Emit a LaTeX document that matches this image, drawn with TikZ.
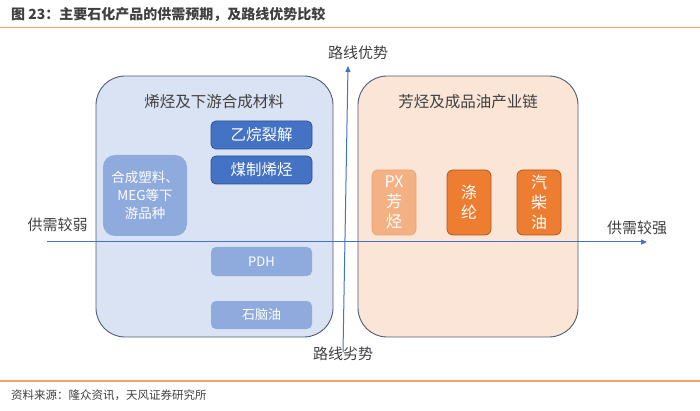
\documentclass[tikz,border=0pt]{standalone}
\usepackage{fontspec}
\setmainfont{Noto Sans CJK SC}
\usetikzlibrary{arrows.meta}
\definecolor{txt}{HTML}{404040}
\definecolor{orl}{HTML}{F2A36B}
\definecolor{bline}{HTML}{4F5D75}
\definecolor{bfill}{HTML}{DAE3F3}
\definecolor{ofill}{HTML}{FBE5D6}
\definecolor{blueA}{HTML}{4472C4}
\definecolor{blueAd}{HTML}{2F528F}
\definecolor{blueB}{HTML}{8FAADC}
\definecolor{orA}{HTML}{ED7D31}
\definecolor{orAd}{HTML}{AE5A21}
\definecolor{orB}{HTML}{F4B183}
\definecolor{axis}{HTML}{4472C4}
\tikzset{
  fs/.style={font=\fontsize{#1}{20}\selectfont},
  bigbox/.style={draw=bline, line width=0.9pt, rounded corners=29pt, inner sep=0pt},
  darkbox/.style={fill=blueA, draw=blueAd, line width=0.8pt, rounded corners=5pt, text=white,
     minimum width=101pt, minimum height=28pt, inner sep=0pt, fs=15.5},
  lightbox/.style={fill=blueB, draw=none, rounded corners=5pt, text=white,
     minimum width=101pt, minimum height=28pt, inner sep=0pt, fs=13},
  obox/.style={draw=orAd, line width=0.8pt, rounded corners=6pt, text=white,
     minimum width=44pt, minimum height=65pt, inner sep=0pt, align=center,
     font=\fontsize{16}{20}\selectfont},
  lbl/.style={text=txt, inner sep=0pt, fs=15},
  axisline/.style={draw=axis, line width=1pt, -{Triangle[length=6pt,width=5pt]}},
}
\begin{document}
\begin{tikzpicture}[x=1pt,y=-1pt]
\useasboundingbox (0,0) rectangle (700,411);
% header and footer
\node[anchor=west, inner sep=0pt, text=txt, font=\fontsize{14}{16}\selectfont\bfseries] (title) at (11,15) {图 23：主要石化产品的供需预期，及路线优势比较};
\coordinate (hl) at (0,27.5);
\coordinate (hr) at (700,27.5);
\draw[orl, line width=1.2pt] (hl) -- (hr);
\coordinate (fl) at (0,381);
\coordinate (fr) at (700,381);
\draw[orl, line width=1.2pt] (fl) -- (fr);
\node[anchor=west, inner sep=0pt, text=txt, fs=11.5] (src) at (11,395) {资料来源：隆众资讯，天风证券研究所};

% big boxes
\node[bigbox, fill=bfill, minimum width=237pt, minimum height=261pt] (lbox) at (214.5,206.5) {};
\node[bigbox, fill=ofill, minimum width=220pt, minimum height=261pt] (rbox) at (468,206.5) {};
\node[lbl, fs=15.5] (ltitle) at (214,102) {烯烃及下游合成材料};
\node[lbl, fs=15.5] (rtitle) at (468,102) {芳烃及成品油产业链};

% left inner boxes
\node[darkbox] (ethane) at (261.5,135) {乙烷裂解};
\node[darkbox] (coal) at (261.5,170) {煤制烯烃};
\node[fill=blueB, rounded corners=12pt, text=white, minimum width=84pt, minimum height=81pt,
      inner sep=0pt, align=center, font=\fontsize{13.5}{18}\selectfont] (plast) at (145,195.5)
      {合成塑料、\\MEG等下\\游品种};
\node[lightbox, minimum height=29pt] (pdh) at (261.5,261.5) {PDH};
\node[lightbox] (naph) at (261.5,315) {石脑油};

% right inner boxes
\node[obox, fill=orB, draw=orB!85!orAd] (px) at (394,202.5) {PX\\芳\\烃};
\node[obox, fill=orA] (poly) at (469,202.5) {涤\\纶};
\node[obox, fill=orA] (oil) at (539,202.5) {汽\\柴\\油};

% axes
\coordinate (xs) at (47,242);
\coordinate (xe) at (647,242);
\coordinate (ys) at (343,352);
\coordinate (ye) at (348,66);
\draw[axisline] (xs) -- (xe);
\draw[axisline] (ys) -- (ye);

\node[lbl] (weak) at (57.5,225) {供需较弱};
\node[lbl] (strong) at (637,228) {供需较强};
\node[lbl] (adv) at (358,53) {路线优势};
\node[lbl] (dis) at (343,354) {路线劣势};
\end{tikzpicture}
\end{document}
